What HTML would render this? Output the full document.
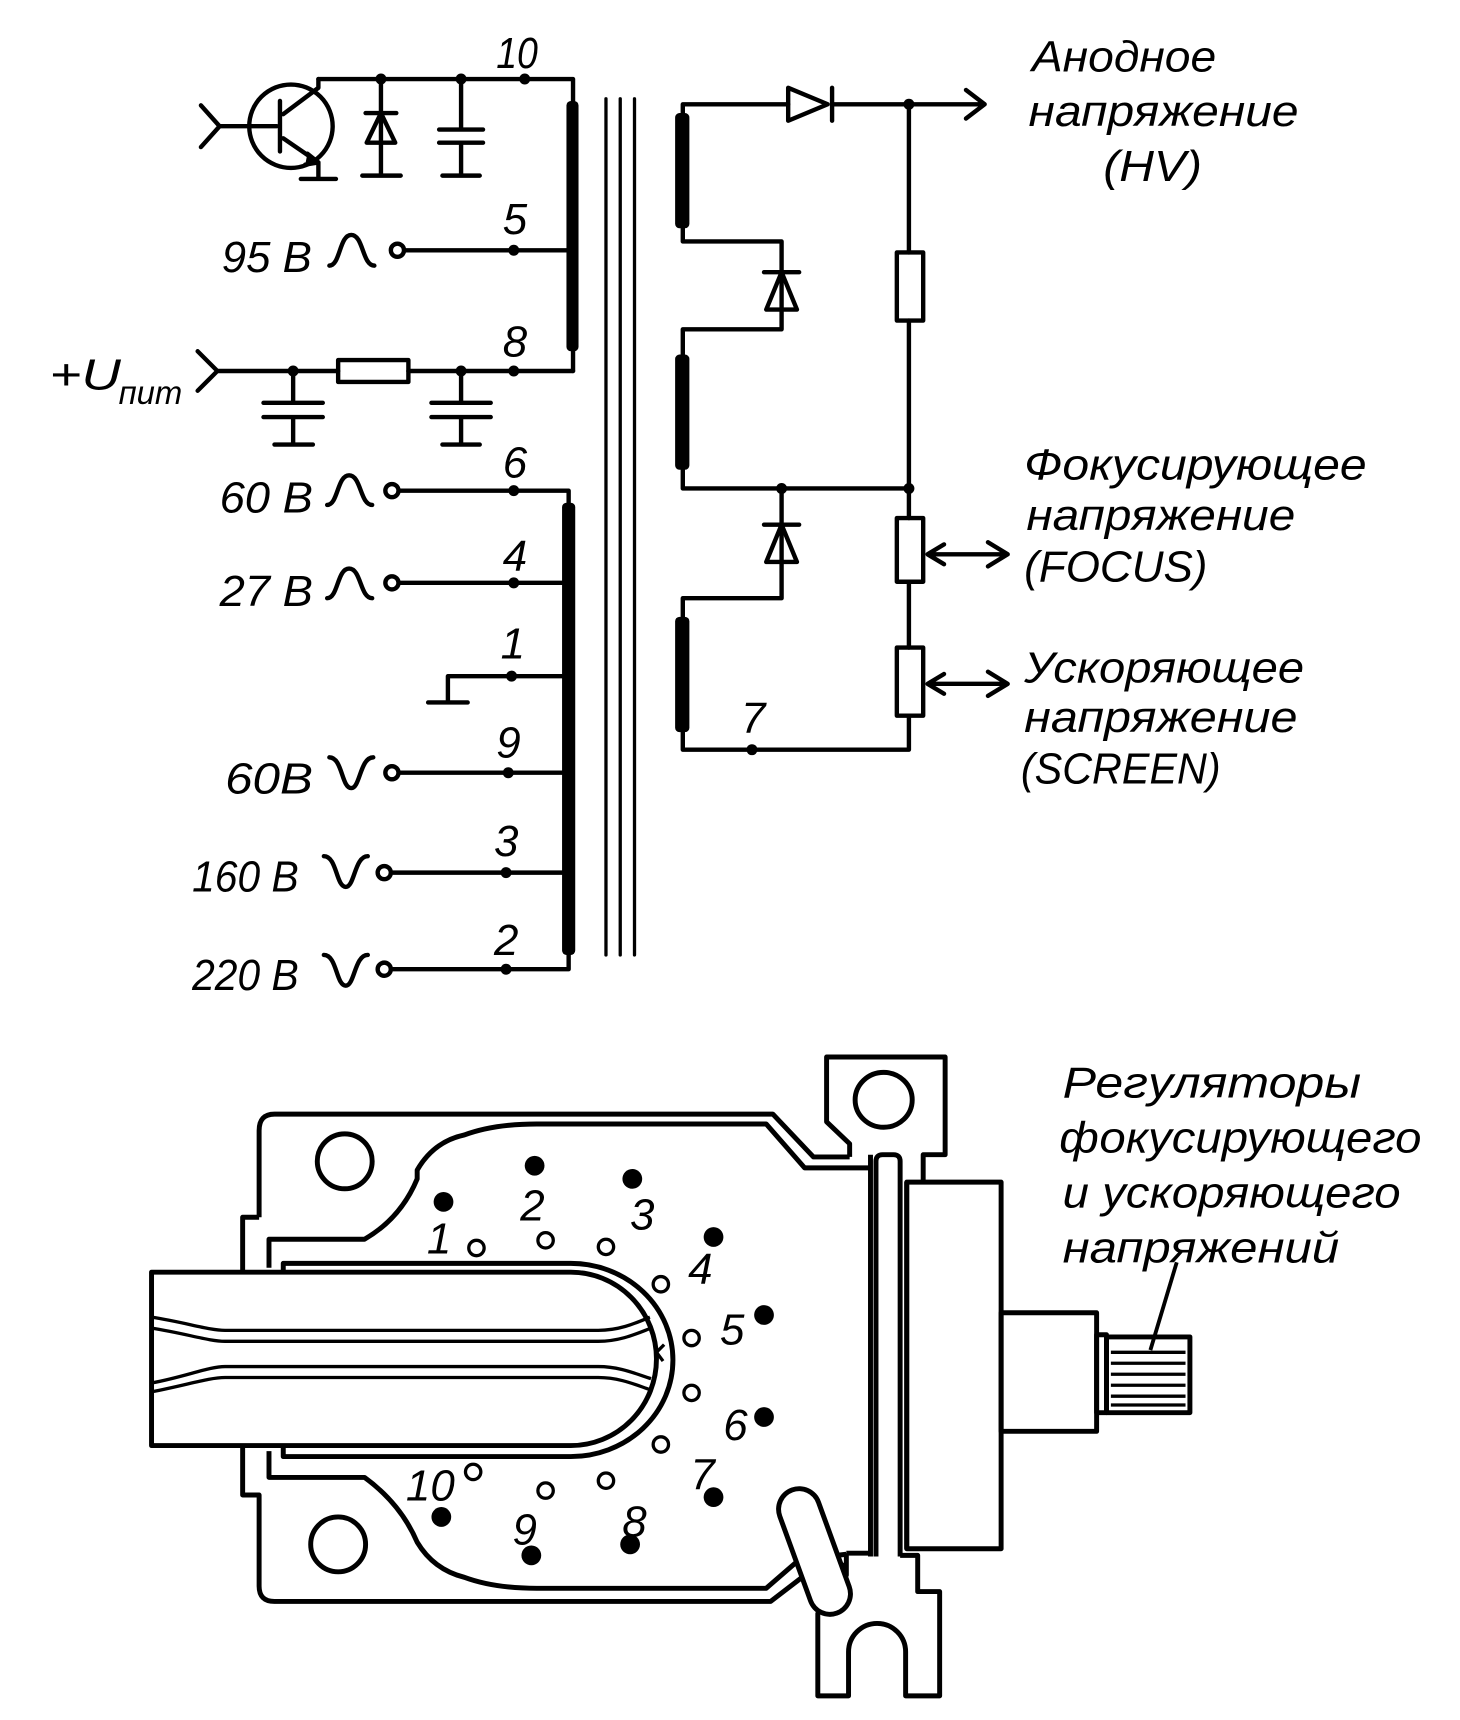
<!DOCTYPE html>
<html><head><meta charset="utf-8"><style>
html,body{margin:0;padding:0;background:#fff;}
svg{display:block;}
text{font-family:"Liberation Sans","DejaVu Sans",sans-serif;font-style:italic;fill:#000;}
</style></head><body>
<svg width="1460" height="1720" viewBox="0 0 1330 1567" xmlns="http://www.w3.org/2000/svg">
<g fill="none" stroke="#000" stroke-width="4" stroke-linecap="round" stroke-linejoin="round">
<circle cx="265" cy="115" r="38"/>
<path d="M183 96 L200 115 L183 134 M200 115 L252 115 M255 92 L255 138 M258 104 L290 80 L290 72 M258 126 L290 148 L290 163 M274 163 L306 163"/>
<path d="M280 140 L290 148 L278 150" fill="#000"/>
<path d="M290 72 L522 72 L522 92"/>
<path d="M347 72 L347 160 M330 160 L365 160 M333 103 L361 103"/>
<path d="M347 103 L334 130 L360 130 Z"/>
<path d="M420 72 L420 118 M400 118 L440 118 M400 130 L440 130 M420 130 L420 160 M403 160 L437 160"/>
<path d="M522 318 L522 338"/>
<path d="M370 228 L522 228"/>
<circle cx="362" cy="228" r="6" fill="#fff"/>
<path d="M300 242 C310 242 309 214 320 214 C331 214 330 242 341 242"/>
<path d="M180 320 L198 338 L180 356 M198 338 L308 338 M372 338 L522 338"/>
<rect x="308" y="328" width="64" height="20"/>
<path d="M267 338 L267 367 M240 367 L294 367 M240 380 L294 380 M267 380 L267 405 M250 405 L285 405"/>
<path d="M420 338 L420 367 M393 367 L447 367 M393 380 L447 380 M420 380 L420 405 M403 405 L437 405"/>
<path d="M365 447 L518 447 L518 460 M365 531 L518 531 M408 640 L408 616 L518 616 M390 640 L426 640 M365 704 L518 704 M358 795 L518 795 M358 883 L518 883 L518 868"/>
<circle cx="357" cy="447" r="6" fill="#fff"/>
<circle cx="357" cy="531" r="6" fill="#fff"/>
<circle cx="357" cy="704" r="6" fill="#fff"/>
<circle cx="350" cy="795" r="6" fill="#fff"/>
<circle cx="350" cy="883" r="6" fill="#fff"/>
<path d="M298 460 C308 460 307 433 318 433 C329 433 328 460 339 460"/>
<path d="M298 545 C308 545 307 518 318 518 C329 518 328 545 339 545"/>
<path d="M300 690 C312 690 311 718 320 718 C328 718 328 690 340 690"/>
<path d="M295 780 C307 780 306 808 315 808 C323 808 323 780 335 780"/>
<path d="M295 870 C307 870 306 898 315 898 C323 898 323 870 335 870"/>
<path d="M552 90 L552 870 M565 90 L565 870 M578 90 L578 870" stroke-width="3"/>
<path d="M622 105 L622 95 L718 95 M758 95 L895 95 M880 82 L897 95 L880 108"/>
<path d="M718 80 L718 110 L754 95 Z"/>
<path d="M758 80 L758 110"/>
<path d="M622 205 L622 220 L712 220 L712 292 L712 300 L622 300 L622 325"/>
<path d="M696 248 L728 248 M712 248 L698 282 L726 282 Z"/>
<path d="M622 425 L622 445 L828 445 M712 445 L712 545 L622 545 L622 565"/>
<path d="M696 478 L728 478 M712 478 L698 512 L726 512 Z"/>
<path d="M622 665 L622 683 L828 683 L828 652 M828 95 L828 230 M828 292 L828 472 M828 530 L828 590"/>
<rect x="817" y="230" width="24" height="62"/>
<rect x="817" y="472" width="24" height="58"/>
<rect x="817" y="590" width="24" height="62"/>
<path d="M846 505 L916 505 M900 494 L918 505 L900 516 M860 496 L845 505 L860 514"/>
<path d="M846 623 L916 623 M900 612 L918 623 L900 634 M860 614 L845 623 L860 632"/>
</g>
<g fill="#000">
<rect x="516" y="92" width="11" height="228" rx="4"/>
<rect x="512" y="458" width="12" height="412" rx="4"/>
<rect x="615" y="103" width="13" height="105" rx="4"/>
<rect x="615" y="323" width="13" height="105" rx="4"/>
<rect x="615" y="562" width="13" height="105" rx="4"/>
<circle cx="347" cy="72" r="5"/><circle cx="420" cy="72" r="5"/><circle cx="478" cy="72" r="5"/>
<circle cx="468" cy="228" r="5"/><circle cx="267" cy="338" r="5"/><circle cx="420" cy="338" r="5"/><circle cx="468" cy="338" r="5"/>
<circle cx="468" cy="447" r="5"/><circle cx="468" cy="531" r="5"/><circle cx="466" cy="616" r="5"/><circle cx="463" cy="704" r="5"/><circle cx="461" cy="795" r="5"/><circle cx="461" cy="883" r="5"/>
<circle cx="828" cy="95" r="5"/><circle cx="712" cy="445" r="5"/><circle cx="828" cy="445" r="5"/><circle cx="685" cy="683" r="5"/>
</g>
<g font-size="40">
<text x="452" y="62" textLength="38" lengthAdjust="spacingAndGlyphs">10</text>
<text x="458" y="213">5</text>
<text x="458" y="325">8</text>
<text x="458" y="435">6</text>
<text x="458" y="520">4</text>
<text x="456" y="600">1</text>
<text x="452" y="690">9</text>
<text x="450" y="780">3</text>
<text x="450" y="870">2</text>
<text x="675" y="668">7</text>
<text x="202" y="248" textLength="82" lengthAdjust="spacingAndGlyphs">95 В</text>
<text x="200" y="467" textLength="85" lengthAdjust="spacingAndGlyphs">60 В</text>
<text x="200" y="552" textLength="85" lengthAdjust="spacingAndGlyphs">27 В</text>
<text x="205" y="723" textLength="80" lengthAdjust="spacingAndGlyphs">60В</text>
<text x="175" y="812" textLength="97" lengthAdjust="spacingAndGlyphs">160 В</text>
<text x="175" y="902" textLength="97" lengthAdjust="spacingAndGlyphs">220 В</text>
<text x="45" y="355" textLength="65" lengthAdjust="spacingAndGlyphs">+U</text>
<text x="108" y="368" font-size="30" textLength="58" lengthAdjust="spacingAndGlyphs">пит</text>
<text x="940" y="65" textLength="168" lengthAdjust="spacingAndGlyphs">Анодное</text>
<text x="937" y="115" textLength="246" lengthAdjust="spacingAndGlyphs">напряжение</text>
<text x="1005" y="165" textLength="90" lengthAdjust="spacingAndGlyphs">(HV)</text>
<text x="933" y="437" textLength="312" lengthAdjust="spacingAndGlyphs">Фокусирующее</text>
<text x="935" y="483" textLength="245" lengthAdjust="spacingAndGlyphs">напряжение</text>
<text x="933" y="530" textLength="167" lengthAdjust="spacingAndGlyphs">(FOCUS)</text>
<text x="933" y="622" textLength="255" lengthAdjust="spacingAndGlyphs">Ускоряющее</text>
<text x="933" y="667" textLength="249" lengthAdjust="spacingAndGlyphs">напряжение</text>
<text x="930" y="714" textLength="182" lengthAdjust="spacingAndGlyphs">(SCREEN)</text>
<text x="968" y="1000" textLength="272" lengthAdjust="spacingAndGlyphs">Регуляторы</text>
<text x="965" y="1050" textLength="330" lengthAdjust="spacingAndGlyphs">фокусирующего</text>
<text x="968" y="1100" textLength="308" lengthAdjust="spacingAndGlyphs">и ускоряющего</text>
<text x="968" y="1150" textLength="252" lengthAdjust="spacingAndGlyphs">напряжений</text>
</g>
<g fill="none" stroke="#000" stroke-width="4.5" stroke-linejoin="round">
<path d="M236 1109 L236 1030 Q236 1015 250 1015 L704 1015 L741 1054 L774 1054"/>
<path d="M236 1109 L221 1109 L221 1158 M221 1318 L221 1362 L236 1362 L236 1445 Q236 1459 250 1459 L702 1459 L745 1426 L771 1426"/>
<path d="M245 1155 L245 1129 L332 1129 Q365 1110 380 1074 L380 1066 Q395 1040 423 1034 Q450 1024 489 1024 L698 1024 L733 1064 L793 1064"/>
<path d="M245 1322 L245 1346 L332 1346 Q365 1370 380 1405 Q395 1430 423 1437 Q450 1447 489 1447 L698 1447 L728 1421 L771 1416"/>
<circle cx="314" cy="1058" r="25"/>
<circle cx="308" cy="1407" r="25"/>
<path d="M138 1159 L520 1159 A78 79 0 0 1 520 1317 L138 1317 Z"/>
<path d="M258 1159 L258 1151 L520 1151 A93 88 0 0 1 520 1327 L258 1327 L258 1317"/>
<path d="M138 1200 C170 1205 190 1212 205 1212 L545 1212 C565 1212 580 1205 592 1200" stroke-width="3"/>
<path d="M138 1210 C170 1215 190 1222 205 1222 L545 1222 C565 1222 580 1215 593 1210" stroke-width="3"/>
<path d="M138 1260 C170 1254 190 1245 205 1245 L545 1245 C565 1245 580 1252 593 1256" stroke-width="3"/>
<path d="M138 1268 C170 1262 190 1255 205 1255 L545 1255 C565 1255 580 1262 592 1266" stroke-width="3"/>
<path d="M605 1225 L598 1232 L604 1240" stroke-width="3"/>
<path d="M774 1054 L774 1042 L753 1022 L753 963 L861 963 L861 1052 L841 1052 L841 1077"/>
<ellipse cx="805" cy="1002" rx="26" ry="25"/>
<path d="M793 1052 L793 1418 M826 1077 L826 1411"/>
<path d="M798 1418 L798 1058 Q798 1052 804 1052 L814 1052 Q820 1052 820 1058 L820 1418"/>
<rect x="826" y="1077" width="86" height="334"/>
<rect x="912" y="1196" width="87" height="108"/>
<rect x="999" y="1216" width="9" height="71"/>
<rect x="1008" y="1218" width="76" height="69"/>
<path d="M1012 1232 L1080 1232 M1012 1242 L1080 1242 M1012 1252 L1080 1252 M1012 1262 L1080 1262 M1012 1272 L1080 1272 M1012 1280 L1080 1280" stroke-width="3"/>
<path d="M1072 1150 L1048 1230" stroke-width="3.5"/>
<path d="M771 1415 L771 1435 L745 1470 L745 1545 L773 1545 L773 1505 A26 26 0 0 1 825 1505 L825 1545 L856 1545 L856 1450 L836 1450 L836 1417 L820 1417 M771 1415 L793 1415"/>
</g>
<path d="M728 1375 L756 1452" stroke="#000" stroke-width="42" stroke-linecap="round"/>
<path d="M728 1375 L756 1452" stroke="#fff" stroke-width="33" stroke-linecap="round"/>
<g fill="#000">
<circle cx="404" cy="1095" r="9"/><circle cx="487" cy="1062" r="9"/><circle cx="576" cy="1074" r="9"/><circle cx="650" cy="1127" r="9"/><circle cx="696" cy="1198" r="9"/><circle cx="696" cy="1291" r="9"/><circle cx="650" cy="1364" r="9"/><circle cx="574" cy="1407" r="9"/><circle cx="484" cy="1417" r="9"/><circle cx="402" cy="1382" r="9"/>
</g>
<g fill="#fff" stroke="#000" stroke-width="3">
<circle cx="434" cy="1137" r="7"/><circle cx="497" cy="1130" r="7"/><circle cx="552" cy="1136" r="7"/><circle cx="602" cy="1170" r="7"/><circle cx="630" cy="1219" r="7"/><circle cx="630" cy="1269" r="7"/><circle cx="602" cy="1316" r="7"/><circle cx="552" cy="1349" r="7"/><circle cx="497" cy="1358" r="7"/><circle cx="431" cy="1341" r="7"/>
</g>
<g font-size="40" text-anchor="middle">
<text x="400" y="1142">1</text><text x="485" y="1112">2</text><text x="585" y="1120">3</text><text x="638" y="1170">4</text><text x="667" y="1225">5</text><text x="670" y="1312">6</text><text x="640" y="1357">7</text><text x="578" y="1400">8</text><text x="478" y="1407">9</text><text x="392" y="1367">10</text>
</g>
</svg>
</body></html>
